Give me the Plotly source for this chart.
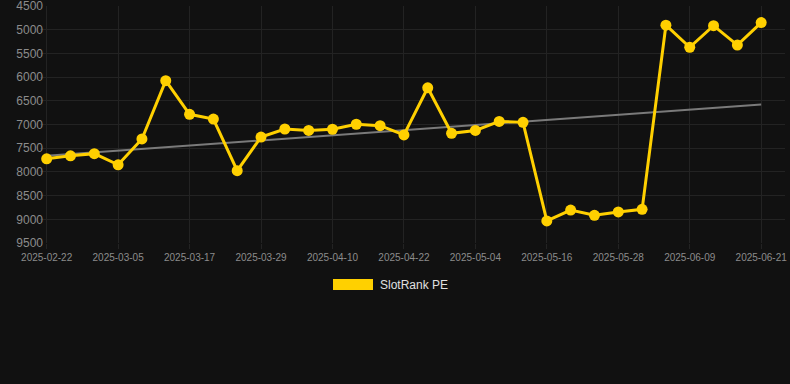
import plotly.graph_objects as go

dates = [
    "2025-02-22", "2025-02-26", "2025-03-01", "2025-03-05", "2025-03-09", "2025-03-13",
    "2025-03-17", "2025-03-21", "2025-03-25", "2025-03-29", "2025-04-02", "2025-04-06",
    "2025-04-10", "2025-04-14", "2025-04-18", "2025-04-22", "2025-04-26", "2025-04-30",
    "2025-05-04", "2025-05-08", "2025-05-12", "2025-05-16", "2025-05-20", "2025-05-24",
    "2025-05-28", "2025-06-01", "2025-06-05", "2025-06-09", "2025-06-13", "2025-06-17",
    "2025-06-21",
]
rank = [
    7725, 7660, 7615, 7850, 7305, 6075, 6785, 6885, 7975, 7265, 7095,
    7125, 7100, 6995, 7025, 7220, 6225, 7185, 7125, 6935, 6955, 9035,
    8805, 8915, 8845, 8790, 4905, 5370, 4915, 5325, 4850,
]
trend_x = [dates[0], dates[-1]]
trend_y = [7660, 6580]

tick_vals = dates[::3]
y_ticks = [4500, 5000, 5500, 6000, 6500, 7000, 7500, 8000, 8500, 9000, 9500]

BG = "#111111"
L, R, T, B = 40, 5, 6, 141
W, H = 790, 384
PW, PH = W - L - R, H - T - B

fig = go.Figure()
fig.add_trace(go.Scatter(
    x=trend_x, y=trend_y, mode="lines",
    line=dict(color="#7a7a7a", width=2), showlegend=False, hoverinfo="skip",
))
fig.add_trace(go.Scatter(
    x=dates, y=rank, mode="lines+markers", name="SlotRank PE",
    line=dict(color="#FFD000", width=3),
    marker=dict(color="#FFD000", size=11),
    showlegend=False,
))

def px_x(p):
    return (p - L) / PW

def px_y(p):
    return (H - B - p) / PH

fig.add_shape(type="rect", xref="paper", yref="paper",
              x0=px_x(333), x1=px_x(373), y0=px_y(290), y1=px_y(279),
              fillcolor="#FFD000", line=dict(width=0))
fig.add_annotation(xref="paper", yref="paper", x=px_x(378), y=px_y(285),
                   text="SlotRank PE", showarrow=False, xanchor="left", yanchor="middle",
                   font=dict(size=12, color="#e0e0e0"))

fig.update_layout(
    width=W, height=H,
    margin=dict(l=L, r=R, t=T, b=B, autoexpand=False),
    paper_bgcolor=BG, plot_bgcolor=BG,
    font=dict(family="Liberation Sans, Arial, sans-serif", color="#9a9a9a"),
    xaxis=dict(
        type="category", categoryorder="array", categoryarray=dates,
        range=[-0.28, 31.0],
        tickmode="array", tickvals=tick_vals, ticktext=tick_vals,
        tickfont=dict(size=10, color="#8c8c8c"),
        showgrid=True, gridcolor="#232323", gridwidth=1,
        zeroline=False, showline=False,
        ticks="outside", ticklen=5, tickcolor="#232323",
        ticklabeloverflow="allow", automargin=False,
    ),
    yaxis=dict(
        range=[9500, 4500], autorange=False,
        tickmode="array", tickvals=y_ticks,
        tickfont=dict(size=12, color="#8c8c8c"),
        showgrid=True, gridcolor="#232323", gridwidth=1,
        zeroline=False, showline=False, ticks="", ticklabelstandoff=-4,
        ticklabeloverflow="allow", automargin=False,
    ),
    showlegend=False,
)

fig.write_html(
    "out.html",
    config={"displayModeBar": False},
    post_script="document.body.style.margin='0';document.body.style.background='#111111';",
)
